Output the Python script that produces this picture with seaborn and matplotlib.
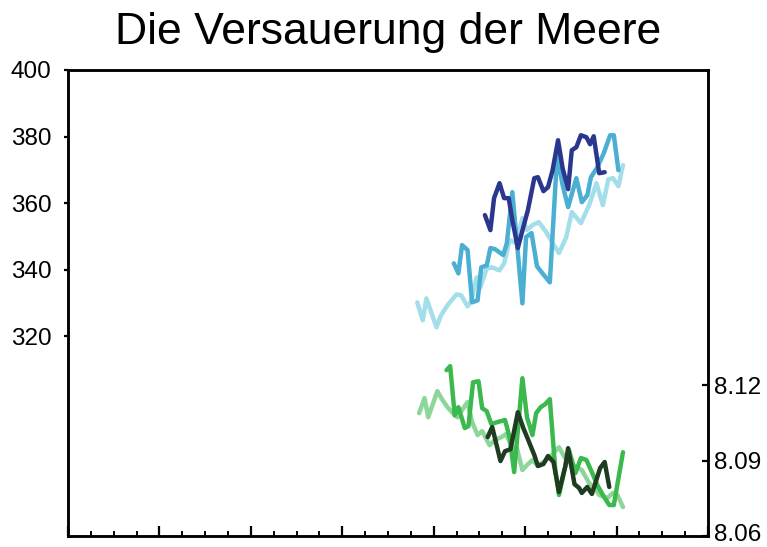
import matplotlib
matplotlib.use("Agg")
import matplotlib.pyplot as plt
from matplotlib.ticker import MultipleLocator
from matplotlib.transforms import ScaledTranslation
import seaborn as sns

# Surface-ocean pCO2 (µatm) at three time-series stations
bats_co2_years = [1988.2, 1988.8, 1989.2, 1990.3, 1990.8, 1991.5, 1992.5, 1993.0, 1993.7,
                  1994.1, 1994.7, 1995.1, 1995.8, 1996.4, 1997.2, 1997.7, 1998.3, 1999.0,
                  1999.7, 2000.2, 2000.8, 2001.5, 2002.3, 2003.0, 2003.7, 2004.5, 2005.1,
                  2006.1, 2007.0, 2007.8, 2008.5, 2009.1, 2009.6, 2010.2, 2010.7]
bats_co2 = [330.2, 324.8, 331.4, 322.7, 326.3, 329.3, 332.6, 332.3, 329.0,
            330.5, 337.7, 334.7, 340.4, 340.7, 339.8, 341.9, 348.9, 348.0,
            355.5, 351.9, 353.4, 354.3, 351.3, 348.0, 345.0, 349.8, 357.3,
            354.0, 359.4, 366.0, 359.4, 367.2, 367.5, 365.1, 371.4]

aloha_co2_years = [1992.2, 1992.7, 1993.1, 1993.7, 1994.2, 1994.8, 1995.2, 1995.8, 1996.2,
                   1996.7, 1997.6, 1998.0, 1998.6, 1999.7, 2000.1, 2000.7, 2001.3, 2001.9,
                   2002.7, 2003.5, 2004.1, 2004.7, 2005.6, 2006.2, 2006.8, 2007.2, 2007.9,
                   2008.6, 2009.3, 2009.7, 2010.2]
aloha_co2 = [341.9, 338.9, 347.4, 345.9, 330.2, 330.8, 340.7, 341.3, 346.5,
             346.2, 344.4, 348.0, 363.3, 329.9, 349.8, 351.0, 341.0, 338.9,
             336.2, 374.4, 365.4, 358.8, 367.5, 360.3, 362.4, 367.8, 370.8,
             375.0, 380.4, 380.4, 369.9]

estoc_co2_years = [1995.6, 1996.2, 1996.6, 1997.2, 1997.7, 1998.2, 1998.6, 1999.2, 1999.8,
                   2000.3, 2001.0, 2001.4, 2002.0, 2002.5, 2003.0, 2003.6, 2004.1, 2004.7,
                   2005.1, 2005.6, 2006.1, 2006.7, 2007.1, 2007.5, 2008.1, 2008.7]
estoc_co2 = [356.4, 351.9, 361.5, 366.0, 361.5, 361.5, 354.9, 346.5, 352.8,
             357.9, 367.5, 367.8, 363.6, 364.8, 369.9, 378.9, 370.5, 364.2,
             375.9, 376.8, 380.4, 379.8, 377.7, 380.1, 369.0, 369.3]

# Surface-ocean pH at the same stations
bats_ph_years = [1988.4, 1989.0, 1989.4, 1990.4, 1990.9, 1991.5, 1992.3, 1992.6, 1993.1,
                 1993.7, 1994.2, 1994.8, 1995.3, 1996.1, 1996.7, 1997.4, 1997.9, 1998.6,
                 1999.1, 1999.7, 2000.2, 2000.8, 2001.3, 2002.1, 2002.9, 2003.7, 2004.3,
                 2004.8, 2005.6, 2006.2, 2007.0, 2007.5, 2008.1, 2009.0, 2009.6, 2010.1,
                 2010.7]
bats_ph = [8.1088, 8.1148, 8.1072, 8.1176, 8.1144, 8.1112, 8.1080, 8.1072, 8.1100,
           8.1132, 8.1053, 8.1001, 8.1017, 8.0961, 8.0981, 8.0993, 8.1005, 8.0953,
           8.0949, 8.0862, 8.0882, 8.0902, 8.0882, 8.0894, 8.0922, 8.0953, 8.0914,
           8.0894, 8.0874, 8.0862, 8.0810, 8.0795, 8.0763, 8.0751, 8.0771, 8.0763,
           8.0715]

aloha_ph_years = [1991.4, 1991.8, 1992.3, 1992.7, 1993.4, 1993.8, 1994.3, 1994.9, 1995.3,
                  1995.8, 1996.3, 1997.0, 1997.8, 1998.3, 1998.8, 1999.7, 2000.2, 2000.8,
                  2001.2, 2001.7, 2002.2, 2002.7, 2003.3, 2003.7, 2004.3, 2004.8, 2005.5,
                  2006.1, 2006.7, 2007.3, 2007.9, 2008.5, 2009.2, 2009.7, 2010.7]
aloha_ph = [8.1259, 8.1275, 8.1080, 8.1112, 8.1029, 8.1037, 8.1211, 8.1215, 8.1108,
            8.1096, 8.1045, 8.1053, 8.1061, 8.0993, 8.0854, 8.1227, 8.1072, 8.1001,
            8.1088, 8.1112, 8.1124, 8.1144, 8.0862, 8.0763, 8.0862, 8.0941, 8.0850,
            8.0910, 8.0902, 8.0854, 8.0802, 8.0763, 8.0723, 8.0723, 8.0933]

estoc_ph_years = [1995.9, 1996.4, 1997.3, 1997.8, 1998.4, 1999.2, 1999.8, 2000.3, 2001.0,
                  2001.4, 2002.0, 2002.5, 2003.1, 2003.7, 2004.4, 2004.7, 2005.4, 2005.9,
                  2006.2, 2006.8, 2007.3, 2008.2, 2008.7, 2009.2]
estoc_ph = [8.0993, 8.1033, 8.0898, 8.0937, 8.0945, 8.1092, 8.1029, 8.0985, 8.0922,
            8.0878, 8.0886, 8.0918, 8.0894, 8.0775, 8.0878, 8.0949, 8.0806, 8.0791,
            8.0771, 8.0795, 8.0767, 8.0870, 8.0894, 8.0795]

co2_ticks = [320, 340, 360, 380, 400]
ph_ticks = [8.06, 8.09, 8.12]
ph_tick_labels = ["8.06", "8.09", "8.12"]

title = "Die Versauerung der Meere"

sns.set_style("white")
plt.rcParams["font.family"] = ["Liberation Sans", "DejaVu Sans"]
plt.rcParams["text.color"] = "black"
plt.rcParams["xtick.color"] = "black"
plt.rcParams["ytick.color"] = "black"
plt.rcParams["axes.labelcolor"] = "black"

fig = plt.figure(figsize=(7.67, 5.47), dpi=100)
ax = fig.add_axes([68 / 767, 1 - 536 / 547, 640 / 767, 466 / 547])
ax2 = ax.twinx()

lw = 3.2
co2_series = [
    (bats_co2_years, bats_co2, "#A3DEEB"),
    (aloha_co2_years, aloha_co2, "#4AAFD3"),
    (estoc_co2_years, estoc_co2, "#2B368E"),
]
for xs, ys, c in co2_series:
    sns.lineplot(x=xs, y=ys, ax=ax, color=c, linewidth=lw, estimator=None)

ph_series = [
    (bats_ph_years, bats_ph, "#8DD69A"),
    (aloha_ph_years, aloha_ph, "#3BB94E"),
    (estoc_ph_years, estoc_ph, "#1F3C21"),
]
for xs, ys, c in ph_series:
    sns.lineplot(x=xs, y=ys, ax=ax2, color=c, linewidth=lw, estimator=None)

ax.set_xlim(1950, 2020)
ax.set_ylim(260, 400)
ax2.set_ylim(8.06, 8.2452)

ax.xaxis.set_major_locator(MultipleLocator(10))
ax.xaxis.set_minor_locator(MultipleLocator(2.5))
ax.tick_params(axis="x", which="major", direction="in", length=7, width=1.6,
               bottom=True, top=False, labelbottom=False)
ax.tick_params(axis="x", which="minor", direction="in", length=3.5, width=1.4,
               bottom=True, top=False)

ax.set_yticks(co2_ticks)
ax.set_yticklabels([str(t) for t in co2_ticks])
ax.tick_params(axis="y", direction="out", length=3, width=1.6, labelsize=17.5,
               pad=9, left=True, right=False, colors="black")

ax2.set_yticks(ph_ticks)
ax2.set_yticklabels(ph_tick_labels)
ax2.tick_params(axis="y", direction="in", length=4, width=1.6, labelsize=17.5,
                pad=4, right=True, left=False, colors="black")

# nudge the lowest pH label up so it stays inside the figure edge
low_tick = ax2.yaxis.get_major_ticks()[0]
low_tick.label2.set_transform(low_tick.label2.get_transform()
                              + ScaledTranslation(0, 2.5 / 72, fig.dpi_scale_trans))

for a in (ax, ax2):
    a.set_xlabel("")
    a.set_ylabel("")
    for s in a.spines.values():
        s.set_linewidth(1.8)
        s.set_color("black")

ax.set_title(title, fontsize=32, pad=19, color="black")

fig.savefig("out.png", dpi=100, facecolor="white")
